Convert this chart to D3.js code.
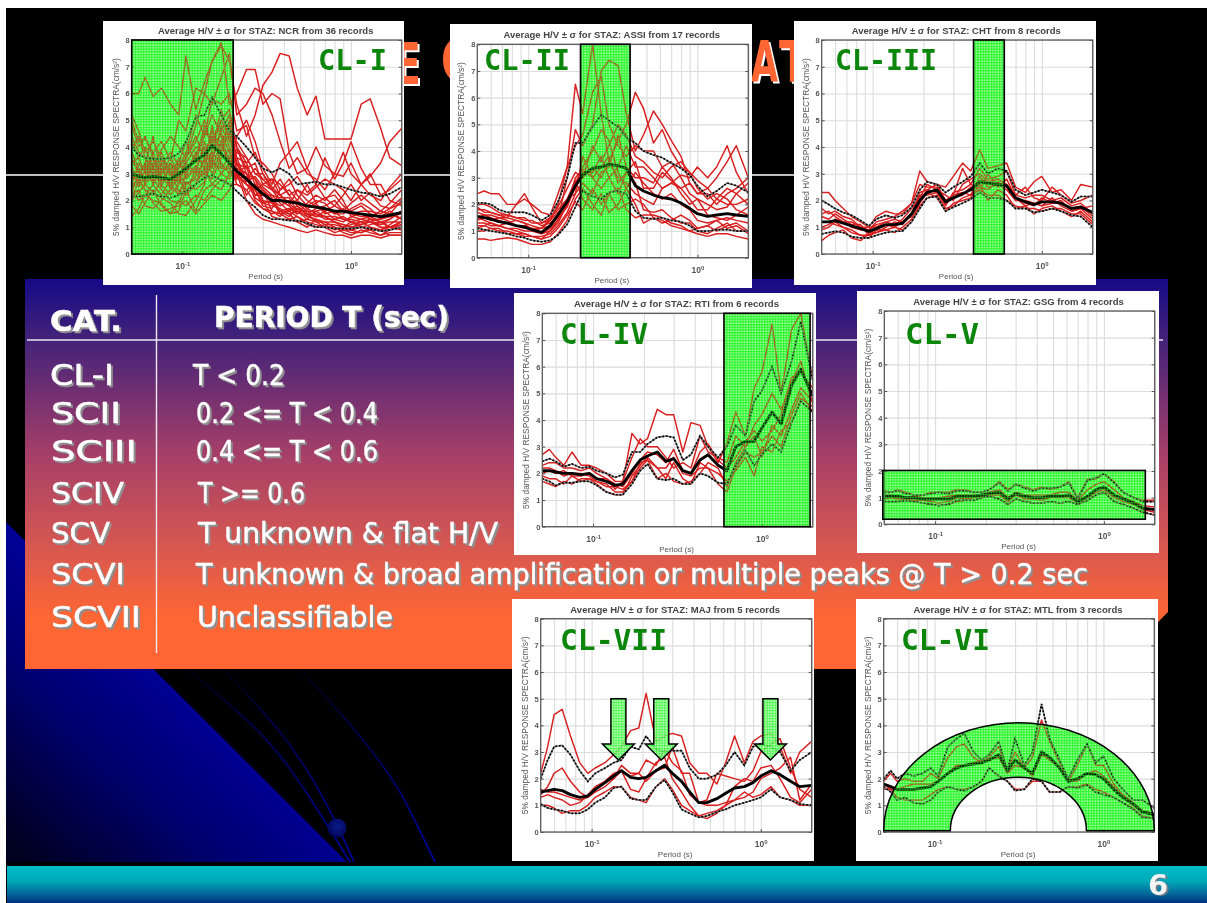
<!DOCTYPE html>
<html><head><meta charset="utf-8">
<script src="https://cdn.jsdelivr.net/npm/d3@7/dist/d3.min.js"></script>
<style>html,body{margin:0;padding:0;background:#fff;overflow:hidden}svg{display:block}</style>
</head><body><svg id="s" width="1207" height="903"></svg>
<script>
const periods=[.05,.055,.06,.067,.075,.085,.095,.105,.12,.135,.15,.17,.19,.21,.24,.27,.3,.34,.38,.43,.48,.55,.62,.7,.8,.9,1,1.15,1.3,1.5,1.7,2];
const gridPeriods=[.06,.07,.08,.09,.1,.2,.3,.4,.5,.6,.7,.8,.9,1,2];
const yTicks=[0,1,2,3,4,5,6,7,8];

const ncrMean=[3.0,2.9,2.85,2.9,2.85,2.8,3.0,3.2,3.5,3.7,4.05,3.75,3.4,3.1,2.8,2.5,2.25,2.0,2.0,1.95,1.9,1.8,1.75,1.7,1.6,1.6,1.55,1.5,1.45,1.4,1.45,1.55];
const ncrUpper=[4.0,3.7,3.6,3.55,3.55,3.6,3.75,4.2,5.1,5.2,5.85,5.2,4.6,4.4,4.0,3.6,3.2,3.05,3.2,3.0,2.6,2.65,2.7,2.6,2.6,2.5,2.4,2.3,2.25,2.15,2.25,2.5];
const ncrLower=[2.15,2.15,2.2,2.25,2.15,2.1,2.2,2.35,2.6,2.85,2.95,2.75,2.6,2.35,2.0,1.75,1.45,1.3,1.3,1.25,1.25,1.15,1.0,1.0,0.95,0.95,0.95,1.0,0.95,0.85,0.9,1.0];
const ncrRecords=[
[6.0,6.0,6.6,5.9,6.2,5.6,5.2,7.4,5.4,6.4,7.2,7.8,7.2,5.6,4.4,5.2,6.3,6.8,7.5,7.4,6.2,5.2,5.9,4.3,4.3,4.3,4.3,5.6,5.8,4.7,3.6,3.3],
[5.0,4.2,4.3,3.8,4.2,3.5,5.0,4.6,6.2,6.0,7.2,7.9,5.6,6.0,6.9,6.9,5.6,6.0,5.8,3.8,3.0,3.2,4.0,3.3,3.0,2.9,3.4,2.6,2.2,2.0,2.5,3.0],
[4.4,3.8,3.6,3.2,3.9,4.4,4.0,3.6,4.8,6.0,5.6,6.6,7.5,5.2,5.6,6.2,6.0,5.2,4.2,3.2,3.6,3.0,2.8,2.4,3.0,3.8,3.0,2.6,2.9,3.4,4.2,4.7],
[1.4,1.7,2.2,2.0,1.9,1.5,1.6,2.4,1.6,2.4,2.6,2.4,3.0,4.4,5.0,4.2,3.2,2.6,3.4,3.8,4.2,3.2,2.6,2.1,1.8,1.6,1.5,1.4,1.4,1.6,1.5,1.3],
[2.0,2.3,2.6,2.3,2.1,1.9,1.5,1.45,2.0,2.6,3.6,4.6,5.2,4.0,3.4,3.8,3.0,2.4,2.2,1.9,1.6,1.4,1.5,1.4,1.2,1.1,1.0,1.1,1.3,1.0,1.0,1.2],
[3.2,2.8,2.4,2.2,2.8,3.2,3.4,3.0,3.8,3.2,4.4,4.0,3.6,3.9,3.2,2.8,2.0,1.9,2.0,1.8,1.5,1.7,1.5,1.3,1.3,1.4,1.2,1.1,1.2,1.0,0.9,1.1],
[2.6,3.4,3.0,3.6,2.6,2.2,2.6,3.4,3.0,4.2,3.4,4.8,4.0,3.4,2.6,2.2,2.4,1.6,1.5,1.6,1.8,1.4,1.3,1.2,1.0,0.9,0.9,0.8,0.9,0.7,0.8,0.8],
[3.8,3.2,2.8,3.4,3.8,3.0,2.8,2.4,2.6,3.6,3.0,3.8,4.6,3.0,2.6,2.4,1.8,1.7,2.4,2.8,2.2,1.8,2.0,1.9,1.5,1.5,1.7,1.9,1.7,1.3,1.5,2.0],
[3.0,2.6,3.2,2.6,2.2,2.8,3.6,2.8,3.2,2.8,3.8,3.4,3.0,3.2,3.0,2.2,2.2,2.2,1.9,1.6,1.4,1.2,1.1,1.0,1.0,0.8,0.7,0.9,0.8,0.7,0.9,1.0],
[2.4,2.0,2.2,2.6,3.2,2.6,2.2,3.0,3.6,3.4,4.8,3.2,3.6,2.6,2.4,2.6,2.4,2.1,1.6,1.5,1.2,1.3,1.6,1.4,1.2,1.0,1.1,1.2,1.0,0.9,1.1,1.4],
[3.4,3.6,3.0,2.8,2.4,2.0,1.9,2.6,2.8,3.0,2.8,3.6,3.9,2.8,2.9,2.0,1.7,1.6,1.4,1.7,1.5,1.9,2.2,2.0,2.4,2.0,1.4,1.5,1.3,1.2,1.3,1.6],
[4.2,3.6,4.0,3.2,3.0,3.4,2.6,3.6,4.2,5.0,4.0,5.4,4.2,4.2,3.6,3.0,2.8,2.8,2.6,2.2,2.4,2.0,1.8,1.6,1.8,2.2,2.6,2.0,2.3,1.8,1.7,2.1],
[2.2,2.4,1.8,1.7,2.0,2.4,2.9,2.2,2.6,3.2,2.6,3.0,3.4,3.2,2.2,2.6,2.0,1.4,1.3,1.3,1.2,1.0,1.3,1.1,0.9,1.0,1.2,1.0,1.1,1.2,1.0,0.9],
[5.2,4.6,3.8,4.2,3.6,3.0,3.2,3.8,5.2,4.4,5.8,5.6,6.0,4.6,4.8,3.6,3.4,3.0,2.4,2.6,2.9,2.3,2.6,3.6,2.8,3.4,4.2,3.2,2.6,2.6,2.0,1.8],
[1.8,1.5,1.9,2.4,1.8,1.5,2.0,1.8,2.2,2.0,2.4,2.8,2.6,2.6,2.4,1.9,1.7,1.5,1.6,1.4,1.7,1.5,1.2,1.0,0.8,0.9,0.8,0.8,1.0,0.9,0.7,0.7],
[3.6,3.0,3.4,4.4,3.0,3.6,3.0,3.4,4.0,3.8,4.4,4.2,4.8,3.4,3.2,3.4,2.6,2.8,2.2,2.4,2.0,2.6,1.9,2.1,2.2,1.8,1.6,1.8,1.5,1.4,1.6,1.3],
[2.8,3.2,2.6,3.0,3.4,2.4,2.4,2.2,3.2,4.0,3.2,4.2,3.2,3.6,3.4,2.6,2.2,2.0,1.8,2.0,1.9,1.6,1.4,1.6,1.3,1.2,1.4,1.3,1.2,1.1,1.2,1.2],
[4.8,4.0,4.4,3.6,2.8,2.6,3.4,4.2,3.4,4.8,4.0,5.0,5.4,4.0,3.0,2.4,2.6,2.4,2.8,2.2,1.8,1.5,1.7,1.8,2.0,1.6,1.9,2.2,1.9,1.6,1.9,2.4],
[2.0,2.8,2.4,1.9,1.6,1.7,1.8,2.0,1.5,1.9,2.2,2.0,2.4,3.0,2.0,1.5,1.3,1.2,1.1,1.0,0.9,0.8,0.9,0.8,0.7,0.7,0.6,0.7,0.7,0.6,0.7,0.7],
[3.3,2.5,2.9,3.2,2.5,3.4,3.0,2.6,2.9,3.5,3.6,3.0,2.8,3.4,2.8,3.2,2.8,2.4,2.0,1.8,2.4,2.2,2.5,2.8,2.6,2.4,2.0,2.6,3.0,2.2,2.4,2.8],
[3.9,4.4,3.6,3.0,3.3,3.8,3.3,3.2,3.5,4.4,5.2,4.4,3.4,3.8,3.6,3.0,3.0,2.5,2.2,1.9,2.0,1.7,1.9,1.5,1.6,1.3,1.3,1.2,1.3,1.3,1.4,1.5],
[2.5,2.9,3.4,2.9,2.7,3.2,2.3,2.7,2.4,2.7,3.4,3.2,3.2,2.9,2.6,2.4,1.9,1.8,1.7,1.5,1.6,1.3,1.2,1.2,1.2,1.1,1.0,1.1,1.2,1.1,1.3,1.6],
[3.5,3.1,2.7,3.3,3.5,3.1,2.9,3.1,3.7,4.6,4.2,5.0,4.4,3.3,3.0,2.8,2.4,1.9,1.6,1.7,1.7,1.5,1.4,1.4,1.4,1.3,1.2,1.3,1.4,1.2,1.0,1.1],
[2.9,2.7,3.1,3.8,2.9,2.5,3.2,3.6,4.4,3.6,4.6,3.8,5.0,3.6,2.7,2.9,2.5,2.2,2.1,2.1,1.6,1.6,1.6,1.7,1.5,1.7,1.5,1.6,1.6,1.5,1.7,1.9],
[2.3,3.0,3.3,2.7,3.4,2.9,2.7,2.9,3.3,3.0,3.9,4.5,3.8,3.0,3.3,2.1,1.9,2.0,1.5,1.3,1.4,1.1,1.0,1.1,1.1,1.0,0.9,1.0,0.9,0.9,1.0,1.2]];

const assiMean=[1.55,1.5,1.45,1.35,1.3,1.2,1.15,1.05,0.95,1.2,1.6,2.1,2.7,3.1,3.35,3.4,3.5,3.45,3.35,2.7,2.5,2.35,2.25,2.2,2.05,1.85,1.65,1.55,1.6,1.65,1.6,1.55];
const assiUpper=[2.05,2.05,2.0,1.8,1.7,1.7,1.7,1.6,1.4,1.6,2.1,3.0,4.3,4.3,4.9,5.35,5.15,4.9,4.5,4.3,4.0,3.85,3.75,3.55,3.35,3.1,2.7,2.3,2.5,2.8,2.7,2.45];
const assiLower=[1.1,1.05,1.0,0.95,0.9,0.8,0.75,0.65,0.6,0.65,0.85,1.25,1.9,2.5,2.3,2.2,2.45,2.5,2.4,1.75,1.5,1.45,1.5,1.4,1.35,1.2,1.0,1.0,1.05,1.05,1.0,1.0];
const assiRecords=[
[1.3,1.3,1.2,1.2,1.1,1.1,1.0,1.0,1.1,1.4,2.0,3.4,6.5,5.4,8.0,5.4,3.6,4.4,5.0,6.2,5.6,4.3,4.8,4.0,3.4,3.2,2.9,2.6,2.2,2.6,2.4,2.0],
[1.0,1.0,1.1,1.1,0.9,0.9,0.8,0.8,0.7,1.0,1.4,3.0,4.8,4.2,5.0,7.0,7.4,7.2,5.4,4.0,4.6,5.5,5.0,4.4,3.8,2.8,2.4,2.6,3.0,3.6,4.2,3.0],
[2.4,2.5,2.4,2.4,2.0,2.0,2.2,2.0,1.7,1.6,2.4,3.4,4.2,4.6,6.2,6.8,5.0,4.2,3.8,4.2,4.0,4.0,3.4,3.6,3.0,2.4,2.2,2.0,1.8,1.9,2.4,2.8],
[1.5,1.4,1.3,1.2,1.3,1.4,1.3,1.0,0.9,1.0,1.3,2.0,2.8,3.4,4.0,4.8,4.4,3.2,2.6,3.2,2.8,2.4,2.2,2.4,2.0,1.8,1.4,1.3,1.4,1.5,1.4,1.3],
[0.7,0.7,0.65,0.7,0.75,0.7,0.6,0.5,0.5,0.6,0.9,1.4,2.2,2.6,2.0,1.6,2.4,2.6,1.8,1.5,1.6,1.6,1.5,1.3,1.2,1.0,0.9,0.8,0.9,0.9,0.8,0.7],
[1.9,1.7,1.7,1.6,1.5,2.0,2.4,1.9,1.3,1.5,1.9,2.6,3.2,3.0,3.4,3.0,3.6,3.0,2.8,2.4,2.2,2.0,2.6,2.8,3.1,3.0,3.4,3.0,3.4,4.2,3.2,2.4],
[1.4,1.5,1.4,1.5,1.4,1.2,1.1,1.1,1.1,1.5,1.8,2.2,2.9,2.2,1.8,2.4,1.7,2.0,2.6,2.0,1.3,1.5,1.4,1.2,1.1,1.0,1.1,1.2,1.0,1.2,1.3,1.0],
[2.0,2.0,1.9,1.7,1.6,1.5,1.5,1.3,1.3,1.4,1.7,2.1,2.6,3.2,3.2,3.8,3.0,3.4,4.2,3.4,3.4,3.0,2.6,2.8,2.6,2.2,1.8,1.8,2.2,2.0,2.0,2.2],
[1.1,1.2,1.3,1.2,1.1,1.0,0.9,0.8,0.8,0.9,1.2,1.7,2.4,3.8,3.0,2.6,3.0,2.4,3.2,2.8,1.8,1.7,1.8,1.5,1.3,1.3,1.0,0.9,1.1,1.3,1.0,1.0],
[1.7,1.6,1.6,1.5,1.5,1.4,1.3,1.2,1.1,1.2,1.5,1.9,2.7,3.0,4.2,3.6,4.2,5.0,4.6,3.8,3.6,3.2,3.0,3.4,3.6,3.2,2.6,2.2,2.4,2.2,1.8,1.6],
[1.2,1.2,1.1,1.0,1.0,0.9,0.9,0.8,0.7,0.8,1.1,1.6,2.1,1.8,2.6,2.0,2.4,1.8,2.0,2.2,2.0,1.5,1.3,1.4,1.6,1.4,1.1,1.2,1.4,1.1,1.2,0.9],
[1.5,1.6,1.5,1.4,1.3,1.2,1.2,1.1,0.9,1.1,1.4,2.0,3.0,3.3,3.0,3.4,3.8,2.8,3.2,3.6,2.6,2.6,3.2,2.9,2.6,2.8,2.4,2.4,2.0,2.4,2.6,3.0],
[1.8,1.8,1.7,1.6,1.6,1.5,1.4,1.4,1.2,1.3,1.6,2.2,2.4,2.8,2.4,3.2,3.4,4.6,3.4,3.0,3.0,2.8,3.4,3.0,2.4,2.0,2.2,1.6,1.5,1.4,1.6,1.9]];

const chtMean=[1.2,1.2,1.25,1.15,1.05,.95,.85,.95,1.1,1.1,1.15,1.5,2.0,2.3,2.4,1.95,2.1,2.25,2.4,2.7,2.65,2.6,2.55,2.1,1.95,1.85,1.95,1.95,1.9,1.7,1.75,1.55];
const chtUpper=[2.0,1.85,1.7,1.55,1.45,1.25,1.05,1.3,1.45,1.35,1.45,1.75,2.4,2.7,2.6,2.3,2.5,2.7,2.9,3.4,3.0,3.2,3.1,2.4,2.2,2.3,2.4,2.3,2.2,1.95,2.15,2.15];
const chtLower=[.75,.8,.85,.8,.65,.6,.6,.7,.8,.85,.85,1.2,1.7,2.1,2.15,1.6,1.75,1.9,2.05,2.3,2.1,2.1,2.0,1.7,1.7,1.55,1.6,1.7,1.6,1.45,1.4,1.0];
const chtRecords=[
[2.3,2.3,2.0,1.7,1.4,1.2,1.0,1.4,1.6,1.5,1.5,1.9,3.1,2.7,2.6,2.5,2.9,3.4,3.1,3.9,3.2,3.3,3.4,2.5,2.3,2.7,2.9,2.3,2.4,2.0,2.6,2.5],
[1.7,1.5,1.6,1.4,1.3,1.0,0.9,1.2,1.3,1.4,1.6,1.9,2.6,2.5,2.5,2.0,2.2,3.2,2.6,3.2,2.8,2.9,3.1,2.2,2.5,2.1,2.0,2.5,2.2,1.9,2.0,2.2],
[1.4,1.3,1.5,1.3,1.1,1.1,0.7,1.0,1.1,1.0,1.2,1.4,2.2,2.2,2.3,1.8,2.3,2.4,2.6,2.4,3.0,2.5,2.8,2.1,1.9,1.8,2.1,1.9,1.9,1.7,1.8,1.4],
[0.5,0.7,0.8,0.9,0.6,0.5,0.8,0.8,0.9,1.0,0.9,1.2,1.8,2.1,2.2,1.7,1.8,2.1,2.2,2.4,2.2,2.2,2.0,1.8,1.7,1.7,1.6,1.7,1.7,1.5,1.5,1.1],
[1.2,1.2,1.1,1.0,0.9,0.7,0.6,0.9,0.9,0.8,1.0,1.3,1.9,2.3,2.1,1.6,1.9,2.0,2.1,2.6,2.0,2.4,2.2,1.7,1.8,1.5,1.7,1.8,1.6,1.4,1.6,1.2],
[0.9,1.0,1.2,1.0,0.8,0.7,0.7,0.8,1.0,1.2,1.1,1.5,2.0,2.4,2.6,2.0,2.2,2.3,2.2,2.9,2.5,2.6,2.4,2.0,2.0,1.9,1.8,1.9,2.0,1.6,1.7,1.8],
[1.0,1.1,1.3,1.2,1.2,1.0,1.0,1.0,1.2,1.1,1.3,1.7,2.1,2.6,2.4,2.2,2.0,2.6,2.8,3.0,2.7,2.8,2.6,2.2,2.1,2.2,2.2,2.0,2.1,1.8,1.9,1.5],
[1.5,1.6,1.4,1.2,1.0,0.9,0.9,1.1,1.2,1.3,1.2,1.5,2.3,2.4,2.3,1.9,2.1,2.2,2.5,2.5,2.4,2.7,2.5,2.1,1.8,1.9,1.8,2.1,1.8,1.6,1.7,1.3]];

const rtiMean=[2.1,2.1,2.05,2.0,2.0,1.95,2.0,1.8,1.7,1.55,1.6,2.1,2.5,2.65,2.8,2.45,2.55,2.1,2.0,2.5,2.7,2.3,2.1,3.0,3.2,3.2,3.7,4.3,3.85,5.3,5.9,4.9];
const rtiUpper=[2.45,2.55,2.45,2.25,2.35,2.2,2.25,2.1,2.0,1.85,1.95,2.8,2.8,3.1,3.35,3.4,3.35,2.5,2.7,3.4,3.0,2.6,3.0,3.8,3.4,4.7,5.1,6.0,5.0,6.2,7.7,5.5];
const rtiLower=[1.8,1.7,1.55,1.65,1.65,1.7,1.7,1.55,1.3,1.2,1.2,1.6,2.1,2.35,1.8,1.75,1.8,1.6,1.6,2.0,1.9,1.65,1.6,2.3,2.85,2.3,2.7,3.1,2.8,3.9,4.7,4.3];
const rtiRecords=[
[2.7,2.9,2.6,2.3,2.8,2.3,2.3,2.2,2.0,1.7,1.7,3.5,3.1,3.3,4.4,4.2,4.2,2.8,3.9,3.8,3.0,2.4,3.1,4.3,3.4,5.2,5.8,7.6,5.0,7.4,8.0,5.5],
[2.3,2.4,2.4,2.2,2.2,2.1,2.2,2.0,1.8,1.4,1.7,2.6,3.3,3.0,3.0,2.6,2.2,2.4,2.2,3.4,2.8,2.6,2.4,3.4,3.0,3.8,4.2,5.0,4.4,5.4,6.2,4.6],
[2.0,2.1,2.0,2.1,1.9,1.9,2.0,1.8,1.8,1.6,1.5,2.0,2.5,2.8,2.7,2.4,2.9,2.1,2.0,2.8,3.1,2.5,2.2,2.6,3.2,3.6,3.2,3.6,4.2,5.6,5.8,5.2],
[1.7,1.6,1.5,1.7,1.6,1.8,1.8,1.6,1.3,1.2,1.2,1.9,2.3,2.6,2.2,1.8,2.4,1.8,1.6,2.4,2.2,2.0,1.7,2.1,2.6,1.9,3.0,2.8,3.6,3.9,4.8,4.5],
[2.2,2.2,2.1,1.9,2.0,2.0,1.9,1.7,1.6,1.3,1.3,1.7,2.2,2.5,1.8,2.0,1.7,1.6,1.7,2.0,2.4,2.2,1.5,2.4,3.0,3.4,2.6,3.8,3.4,4.4,5.2,4.7],
[1.9,1.8,1.8,1.6,1.9,1.7,1.8,1.7,1.5,1.5,1.4,1.7,2.4,2.5,2.2,2.2,2.6,2.0,1.9,2.2,2.2,1.6,1.3,2.2,2.8,2.6,2.8,3.4,3.0,4.2,5.0,4.3]];

const gsgMean=[1.05,1.05,1.05,1.0,1.0,.95,.95,.95,.95,1.05,1.05,1.05,1.1,1.15,1.2,.95,1.15,1.05,1.0,1.0,1.05,1.05,1.1,.85,1.05,1.3,1.4,1.1,.95,.8,.6,.55];
const gsgUpper=[1.2,1.2,1.25,1.15,1.1,1.1,1.15,1.2,1.15,1.25,1.25,1.2,1.2,1.3,1.55,1.25,1.5,1.35,1.25,1.35,1.35,1.4,1.55,.95,1.65,1.75,1.9,1.55,1.2,1.0,.85,.85];
const gsgLower=[.85,.85,.85,.9,.85,.8,.75,.7,.75,.9,.9,.9,1.0,1.05,.95,.75,.95,.85,.8,.8,.85,.8,.85,.75,.9,1.1,1.2,.85,.75,.6,.45,.35];
const gsgRecords=[
[1.25,1.2,1.3,1.2,1.1,1.1,1.2,1.2,1.2,1.3,1.3,1.2,1.2,1.3,1.6,1.3,1.5,1.4,1.3,1.4,1.3,1.4,1.6,1.0,1.7,1.7,1.9,1.6,1.2,1.0,.9,.9],
[1.1,1.1,1.0,1.0,1.05,1.0,1.0,1.0,1.05,1.1,1.1,1.1,1.1,1.2,1.3,1.0,1.2,1.1,1.1,1.1,1.1,1.2,1.2,.9,1.3,1.5,1.6,1.3,1.0,.85,.7,.65],
[.95,1.0,.95,.95,.9,.9,.85,.8,.85,1.0,.95,1.0,1.05,1.1,1.1,.85,1.1,.95,.95,.9,1.0,1.0,1.0,.8,1.0,1.2,1.3,1.0,.85,.75,.55,.45],
[.85,.85,.85,.9,.85,.8,.75,.7,.75,.85,.9,.9,1.0,1.05,.95,.75,.95,.85,.8,.8,.85,.8,.85,.75,.9,1.1,1.2,.85,.75,.6,.45,.35]];

const mtlMean=[1.8,1.7,1.6,1.6,1.6,1.65,1.7,1.9,2.2,2.4,2.5,2.55,2.6,2.7,2.9,2.3,2.7,2.4,2.2,3.0,2.8,2.4,1.9,2.0,2.2,2.15,2.0,1.6,1.3,1.05,.75,.65];
const mtlUpper=[2.0,2.3,2.0,2.2,2.1,2.2,2.4,2.1,3.2,3.5,3.7,3.0,2.7,2.9,3.4,2.3,3.5,2.5,3.0,4.8,3.5,2.7,2.0,2.7,3.3,2.6,2.85,2.0,1.6,1.2,1.2,.9];
const mtlLower=[1.7,1.5,1.2,1.3,1.1,1.05,1.2,1.5,1.7,1.6,1.55,1.7,1.9,2.4,2.1,1.9,1.55,1.6,2.0,1.9,1.5,1.5,1.7,1.65,1.75,1.5,1.4,1.3,1.1,.85,.55,.5];
const mtlRecords=[
[1.9,2.2,1.9,2.0,1.9,1.9,2.2,2.0,2.8,3.2,3.3,2.8,2.6,2.8,3.2,2.3,3.0,2.4,2.8,4.2,3.4,2.6,1.9,2.5,3.3,2.5,2.5,1.8,1.4,1.1,.8,.6],
[1.6,1.6,1.6,1.7,1.8,1.8,1.8,1.9,2.2,2.5,2.5,2.6,2.7,2.7,2.8,2.2,2.5,2.4,2.1,2.9,2.7,2.4,1.9,1.9,2.2,2.3,2.1,1.7,1.3,1.0,.8,.7],
[1.8,1.6,1.3,1.2,1.2,1.2,1.4,1.6,1.7,1.6,1.6,1.7,1.9,2.4,2.1,1.9,1.6,1.6,1.9,1.9,1.5,1.5,1.7,1.7,1.8,1.6,1.5,1.3,1.1,.9,.6,.5]];

const majMean=[1.5,1.55,1.6,1.55,1.4,1.3,1.35,1.6,1.85,2.1,2.3,2.05,2.0,2.05,2.3,2.5,2.2,1.9,1.5,1.1,1.1,1.25,1.45,1.65,1.7,1.85,2.1,2.3,2.15,1.9,1.7,1.75];
const majUpper=[2.0,2.7,3.2,3.25,2.9,2.3,1.9,2.2,2.4,2.6,2.7,3.2,3.1,3.6,3.1,3.0,3.05,3.05,2.4,2.0,2.0,2.15,2.5,3.0,2.5,3.2,3.3,3.2,3.0,2.3,2.7,3.0];
const majLower=[1.05,.9,.85,.8,.7,.7,.85,1.1,1.3,1.65,1.7,1.25,1.2,1.2,1.7,1.95,1.5,.85,.7,.55,.6,.75,.85,1.0,1.1,1.2,1.3,1.6,1.3,1.2,1.05,1.0];
const majRecords=[
[2.2,3.2,4.4,4.6,3.6,2.6,2.2,2.4,2.6,2.9,3.2,3.8,3.9,5.2,3.4,3.6,3.7,3.6,2.6,2.2,2.2,1.8,2.6,3.6,2.6,3.4,3.6,3.7,3.2,2.2,3.0,3.4],
[1.4,1.7,2.2,2.4,1.9,1.5,1.3,1.5,1.7,2.0,2.5,2.2,2.2,2.7,2.5,3.1,2.6,2.3,1.4,1.1,1.2,2.2,2.1,2.0,1.9,2.3,3.0,3.3,3.5,2.4,1.6,1.3],
[1.3,1.4,1.3,1.2,1.0,1.1,1.4,1.7,1.9,2.2,2.3,1.6,1.5,2.0,2.6,2.8,2.0,1.5,1.0,.6,.5,.7,1.0,1.7,2.0,1.9,2.4,2.5,2.0,1.3,1.1,1.6],
[1.0,1.0,.9,.7,.8,.8,1.0,1.3,1.5,1.7,1.7,1.3,1.2,1.1,1.7,2.0,1.6,1.0,.8,.6,.7,.8,1.0,1.2,1.5,1.3,1.4,1.7,1.3,1.2,1.0,1.0],
[1.6,1.5,1.5,1.4,1.3,1.2,1.3,1.6,1.9,2.0,2.3,2.1,2.2,1.9,2.3,2.4,3.2,2.2,2.2,1.1,1.0,1.0,1.1,1.2,1.3,1.5,2.0,2.2,2.4,2.8,1.2,1.8]];

const arrowPeriods=[.144,.258,1.14], arrowLevels=[5.0,3.3,2.7];
const archOuter=[.05,2,4.1], archInner=[.124,.793,2.05], archBase=.05;

const tableHead=["CAT.","PERIOD T (sec)"];
const tableCats=["CL-I","SCII","SCIII","SCIV","SCV","SCVI","SCVII"];
const tableRanges=["T < 0.2","0.2 <= T < 0.4","0.4 <= T < 0.6","T >= 0.6","T unknown & flat H/V","T unknown & broad amplification or multiple peaks @ T > 0.2 sec","Unclassifiable"];

const svg=d3.select("#s");
const defs=svg.append("defs");
function grad(id,attrs,stops){const g=defs.append("linearGradient").attr("id",id);
  Object.entries(attrs).forEach(([k,v])=>g.attr(k,v));
  stops.forEach(([o,c])=>g.append("stop").attr("offset",o).attr("stop-color",c));}
grad("gTable",{x1:0,y1:0,x2:0,y2:1},[[0,"#160a86"],[.16,"#452379"],[.45,"#a63f68"],[.7,"#d9594f"],[.87,"#ff6633"],[1,"#ff6633"]]);
grad("gBar",{x1:0,y1:0,x2:0,y2:1},[[0,"#00bcc4"],[.4,"#00aab8"],[.75,"#04689a"],[1,"#03307f"]]);
grad("gWedge",{gradientUnits:"userSpaceOnUse",x1:30,y1:862,x2:190,y2:690},[[0,"#000020"],[.55,"#00006e"],[1,"#000098"]]);
grad("gArc",{gradientUnits:"userSpaceOnUse",x1:0,y1:669,x2:0,y2:862},[[0,"#000010"],[.35,"#000050"],[1,"#000098"]]);
const rg=defs.append("radialGradient").attr("id","gBall").attr("cx",.55).attr("cy",.4).attr("r",.7);
rg.append("stop").attr("offset",0).attr("stop-color","#0c1c8c");rg.append("stop").attr("offset",1).attr("stop-color","#000050");
// lime base drawn under the curves, translucent lattice drawn over them
const cell=2.7;
const base=defs.append("pattern").attr("id","hatchBase").attr("patternUnits","userSpaceOnUse").attr("width",cell).attr("height",cell);
base.append("rect").attr("width",cell).attr("height",cell).attr("fill","#c4ffc4");
base.append("path").attr("d",`M0 .6H${cell}M.6 0V${cell}`).attr("stroke","#30f530").attr("stroke-width",1.05);
const top_=defs.append("pattern").attr("id","hatchTop").attr("patternUnits","userSpaceOnUse").attr("width",cell).attr("height",cell);
top_.append("path").attr("d",`M0 .6H${cell}M.6 0V${cell}`).attr("stroke","#30f530").attr("stroke-opacity",.65).attr("stroke-width",1);

// backdrop
svg.append("rect").attr("x",6).attr("y",8).attr("width",1201).attr("height",895).attr("fill","#000");
svg.append("path").attr("d","M6 522L347 862H6Z").attr("fill","url(#gWedge)");
const arcs=[[[187,669],[260,733],[293,773],[350,862]],[[223,669],[280,732],[310,775],[333,817],[354,862]],[[300,669],[363,740],[397,787],[413,817],[435,862]]];
const arcLine=d3.line().curve(d3.curveCatmullRom);
svg.selectAll(".arc").data(arcs).join("path").attr("d",arcLine).attr("fill","none").attr("stroke","url(#gArc)").attr("stroke-width",1.8);
svg.append("circle").attr("cx",337).attr("cy",828).attr("r",9.5).attr("fill","url(#gBall)");
svg.append("rect").attr("x",7).attr("y",866).attr("width",1200).attr("height",37).attr("fill","url(#gBar)");
svg.append("line").attr("x1",6).attr("x2",1000).attr("y1",175).attr("y2",175).attr("stroke","#fff").attr("stroke-width",1.6);

// slide heading, almost entirely hidden behind the charts
const head=svg.append("g").attr("font-family","'DejaVu Sans'").attr("font-weight","bold").attr("font-size",57).attr("fill","#ff6633").style("filter","drop-shadow(2.5px 2.5px 0 #fff) blur(.5px)");
[["E",393,84,28],["C",441,81,30],["A",751,82,27],["T",779,82,30]].forEach(d=>head.append("text").attr("x",d[1]).attr("y",d[2]).attr("textLength",d[3]).attr("lengthAdjust","spacingAndGlyphs").text(d[0]));

// table
svg.append("path").attr("d","M25 279H1168V612L1112 669H25Z").attr("fill","url(#gTable)");
svg.append("line").attr("x1",27).attr("x2",1163).attr("y1",340).attr("y2",340).attr("stroke","#e8e4f4").attr("stroke-width",1.4);
svg.append("line").attr("x1",156.5).attr("x2",156.5).attr("y1",295).attr("y2",653).attr("stroke","#f0e8f0").attr("stroke-width",1.4);
const tg=svg.append("g").attr("font-family","'DejaVu Sans'").attr("fill","#fff").attr("stroke","#fff").attr("stroke-width",.5).attr("font-size",29).style("filter","drop-shadow(2px 2px 0 #8f8f8f) blur(.5px)");
function tx(g,s,x,y,len,bold){g.append("text").attr("x",x).attr("y",y).attr("textLength",len).attr("lengthAdjust","spacingAndGlyphs").attr("font-weight",bold?"bold":null).text(s);}
tx(tg,tableHead[0],50,331,72,1);tx(tg,tableHead[1],214,327,235,1);
const rowY=[385,423,461,503,543,584,627], catX=[[50,64],[51,70],[51,86],[51,73],[51,59],[51,74],[51,90]],
      rngX=[[193,92],[196,182],[196,182],[198,107],[198,300],[196,892],[197,196]];
tableCats.forEach((c,i)=>{tx(tg,c,catX[i][0],rowY[i],catX[i][1]);tx(tg,tableRanges[i],rngX[i][0],rowY[i],rngX[i][1]);});
svg.append("text").attr("x",1158).attr("y",895).attr("text-anchor","middle").attr("font-family","'DejaVu Sans'").attr("font-weight","bold").attr("font-size",29).attr("fill","#f4f4f4").style("filter","drop-shadow(2px 1px 0 #6c7c88) blur(.4px)").text("6");

// charts
const panels=[
 {s:"NCR",n:36,tag:"CL-I",rec:ncrRecords,m:ncrMean,u:ncrUpper,l:ncrLower,plate:[103,21,301,264],box:[131.7,401.7,40,254],lab:[318,70,69],band:[.05,.2,0,8]},
 {s:"ASSI",n:17,tag:"CL-II",rec:assiRecords,m:assiMean,u:assiUpper,l:assiLower,plate:[450,24,302,264],box:[477.3,748.3,44.3,257.7],lab:[484,70,86],band:[.204,.4,0,8]},
 {s:"CHT",n:8,tag:"CL-III",rec:chtRecords,m:chtMean,u:chtUpper,l:chtLower,plate:[794,21,302,264],box:[821.7,1092.7,40,254],lab:[835,70,102],band:[.395,.6,0,8]},
 {s:"RTI",n:6,tag:"CL-IV",rec:rtiRecords,m:rtiMean,u:rtiUpper,l:rtiLower,plate:[514,293,302,262],box:[542.3,812.7,313.3,526.7],lab:[560,344,88],band:[.596,1.93,0,8]},
 {s:"GSG",n:4,tag:"CL-V",rec:gsgRecords,m:gsgMean,u:gsgUpper,l:gsgLower,plate:[857,291,302,262],box:[884.3,1154.7,311,524.3],lab:[905,344,74],band:[.049,1.76,.19,2.02]},
 {s:"MAJ",n:5,tag:"CL-VII",rec:majRecords,m:majMean,u:majUpper,l:majLower,plate:[512,599,302,262],box:[540.7,811.7,618.7,832],lab:[560,650,107],arrows:true},
 {s:"MTL",n:3,tag:"CL-VI",rec:mtlRecords,m:mtlMean,u:mtlUpper,l:mtlLower,plate:[856,599,302,262],box:[883.7,1154.3,618.7,832],lab:[901,650,89],arch:true}];

panels.forEach((p,i)=>{
  const [x0,x1,yT,yB]=p.box, W=x1-x0, H=yB-yT;
  const g=svg.append("g").style("filter","blur(.6px)");
  g.append("rect").attr("x",p.plate[0]).attr("y",p.plate[1]).attr("width",p.plate[2]).attr("height",p.plate[3]).attr("fill","#fff");
  const x=d3.scaleLog().domain([.05,2]).range([x0,x1]), y=d3.scaleLinear().domain([0,8]).range([yB,yT]);
  const cid="clip"+i;
  defs.append("clipPath").attr("id",cid).append("rect").attr("x",x0).attr("y",yT).attr("width",W).attr("height",H);
  // grid
  const gx=g.append("g").attr("transform",`translate(0,${yB})`).call(d3.axisBottom(x).tickValues(gridPeriods).tickSize(-H).tickFormat(""));
  gx.selectAll("line").attr("stroke","#dcdcdc").attr("stroke-width",1.1);gx.select(".domain").remove();
  const gy=g.append("g").attr("transform",`translate(${x0},0)`).call(d3.axisLeft(y).tickValues(yTicks).tickSize(-W).tickFormat(""));
  gy.selectAll("line").attr("stroke","#dcdcdc").attr("stroke-width",1.1);gy.select(".domain").remove();
  // highlight shape drawn twice: opaque under the curves, lattice above them
  function shape(layer,fill,stroke){
    if(p.band){const b=p.band;
      layer.append("rect").attr("x",x(b[0])).attr("y",y(b[3])).attr("width",x(b[1])-x(b[0])).attr("height",y(b[2])-y(b[3])).attr("fill",fill).attr("stroke",stroke).attr("stroke-width",1.6);}
    if(p.arch){const b0=y(archBase),oL=x(archOuter[0]),oR=x(archOuter[1]),iL=x(archInner[0]),iR=x(archInner[1]);
      const orx=(oR-oL)/2,ory=b0-y(archOuter[2]),irx=(iR-iL)/2,iry=b0-y(archInner[2]);
      layer.append("path").attr("d",`M${oL} ${b0}A${orx} ${ory} 0 0 1 ${oR} ${b0}L${iR} ${b0}A${irx} ${iry} 0 0 0 ${iL} ${b0}Z`).attr("fill",fill).attr("stroke",stroke).attr("stroke-width",1.5);}
  }
  shape(g.append("g"),"url(#hatchBase)","none");
  // curves
  const line=d3.line().x((d,j)=>x(periods[j])).y(d=>y(d));
  const c=g.append("g").attr("clip-path",`url(#${cid})`).attr("fill","none");
  c.selectAll(".rec").data(p.rec).join("path").attr("d",line).attr("stroke","#d81e1e").attr("stroke-width",1.45).attr("stroke-linejoin","round");
  [p.u,p.l].forEach(a=>{
    c.append("path").attr("d",line(a)).attr("stroke","#777").attr("stroke-width",1.5);
    c.append("path").attr("d",line(a)).attr("stroke","#000").attr("stroke-width",1.7).attr("stroke-dasharray","1.8 1.8");});
  c.append("path").attr("d",line(p.m)).attr("stroke","#000").attr("stroke-width",2.9).attr("stroke-linejoin","round");
  // axes
  g.append("rect").attr("x",x0).attr("y",yT).attr("width",W).attr("height",H).attr("fill","none").attr("stroke","#5a5a5a").attr("stroke-width",1.3);
  const ax=g.append("g").attr("transform",`translate(0,${yB})`).call(d3.axisBottom(x).tickValues([.1,1]).tickSize(-3).tickPadding(9));
  ax.select(".domain").remove();ax.selectAll("line").attr("stroke","#555");
  ax.selectAll("text").attr("font-family","'Liberation Sans'").attr("font-weight","bold").attr("font-size",8.5).attr("fill","#555")
    .each(function(d){const t=d3.select(this).text("");t.append("tspan").text("10");t.append("tspan").attr("dy",-3).attr("font-size",6).text(d===1?"0":"-1");});
  const ay=g.append("g").attr("transform",`translate(${x0},0)`).call(d3.axisLeft(y).tickValues(yTicks).tickSize(-3).tickPadding(2));
  ay.select(".domain").remove();ay.selectAll("line").attr("stroke","#555");
  ay.selectAll("text").attr("font-family","'Liberation Sans'").attr("font-weight","bold").attr("font-size",7.5).attr("fill","#555");
  const ar=g.append("g").attr("transform",`translate(${x1},0)`).call(d3.axisRight(y).tickValues(yTicks).tickSize(-3).tickFormat(""));
  ar.select(".domain").remove();ar.selectAll("line").attr("stroke","#555");
  // texts
  const cx=(x0+x1)/2;
  const T=(s,xx,yy,fs,w,col)=>g.append("text").attr("x",xx).attr("y",yy).attr("text-anchor","middle").attr("font-family","'Liberation Sans'").attr("font-size",fs).attr("font-weight",w).attr("fill",col).text(s);
  T(`Average H/V ± σ for STAZ: ${p.s} from ${p.n} records`,cx-1,yT-6,9.5,"bold","#444");
  T("Period (s)",cx-1,yB+25,8,"normal","#555");
  T("5% damped H/V RESPONSE SPECTRA(cm/s²)",0,0,8.4,"normal","#555").attr("transform",`translate(${x0-13},${(yT+yB)/2}) rotate(-90)`);
  // outlines and lattice
  shape(g.append("g"),"url(#hatchTop)","#000");
  if(p.arrows){arrowPeriods.forEach(t=>{const tx0=x(t),a=y(arrowLevels[0]),b=y(arrowLevels[1]),e=y(arrowLevels[2]);
    const d=`M${tx0-7.5} ${a}H${tx0+7.5}V${b}H${tx0+16}L${tx0} ${e}L${tx0-16} ${b}H${tx0-7.5}Z`;
    g.append("path").attr("d",d).attr("fill","url(#hatchBase)").attr("fill-opacity",.85).attr("stroke","#000").attr("stroke-width",1.5);});}
  g.append("text").attr("x",p.lab[0]).attr("y",p.lab[1]).attr("textLength",p.lab[2]).attr("lengthAdjust","spacingAndGlyphs").attr("font-family","'DejaVu Sans Mono'").attr("font-weight","bold").attr("font-size",28).attr("fill","#0b860b").text(p.tag);
});
</script></body></html>
